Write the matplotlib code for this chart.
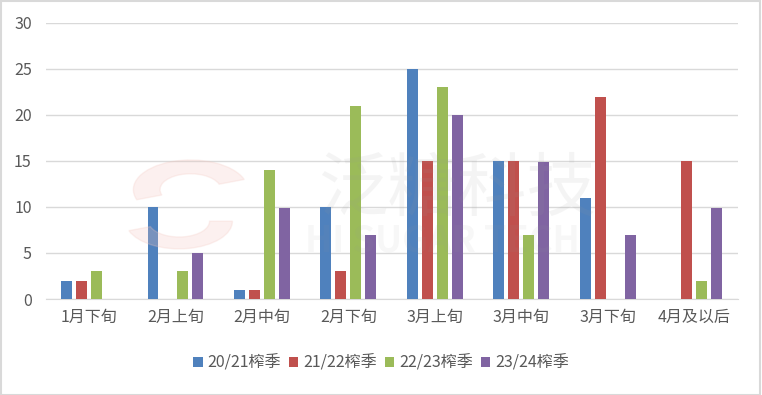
import numpy as np
import matplotlib.pyplot as plt
from matplotlib.patches import Rectangle, Wedge

plt.rcParams['font.family'] = ['Noto Sans CJK SC', 'DejaVu Sans']

categories = ['1月下旬', '2月上旬', '2月中旬', '2月下旬', '3月上旬', '3月中旬', '3月下旬', '4月及以后']
seasons = ['20/21榨季', '21/22榨季', '22/23榨季', '23/24榨季']
s2021 = [2, 10, 1, 10, 25, 15, 11, 0]
s2122 = [2, 0, 1, 3, 15, 15, 22, 15]
s2223 = [3, 3, 14, 21, 23, 7, 0, 2]
s2324 = [0, 5, 9.9, 7, 20, 14.9, 7, 9.9]
colors = ['#4F81BD', '#C0504D', '#9BBB59', '#8064A2']

fig = plt.figure(figsize=(7.62, 3.95), dpi=100)
ax = fig.add_axes([0.060, 0.243, 0.908, 0.699])

# watermark logo (faint)
fig.patches.append(Wedge((0.25, 0.52), 0.075, 20, 200, width=0.035, transform=fig.transFigure,
                         color='#F4C7C0', alpha=0.25, zorder=0))
fig.patches.append(Wedge((0.235, 0.44), 0.07, 200, 360, width=0.03, transform=fig.transFigure,
                         color='#F4C7C0', alpha=0.25, zorder=0))

x = np.arange(len(categories))
pitch = 0.173
width = 0.127
for i, vals in enumerate([s2021, s2122, s2223, s2324]):
    ax.bar(x + (i - 1.5) * pitch, vals, width, color=colors[i], label=seasons[i], zorder=3)

ax.set_xlim(-0.5, len(categories) - 0.5)
ax.set_ylim(0, 30)
ax.set_yticks(range(0, 31, 5))
ax.set_xticks(x)
ax.set_xticklabels(categories)
ax.grid(axis='y', color='#D9D9D9', linewidth=1, zorder=0)
ax.patch.set_alpha(0)
for s in ['top', 'right', 'left']:
    ax.spines[s].set_visible(False)
ax.spines['bottom'].set_color('#D9D9D9')
ax.tick_params(axis='both', length=0, labelsize=11.5, colors='#595959')
ax.tick_params(axis='x', pad=7)
ax.tick_params(axis='y', pad=10)

# watermark text
fig.text(0.60, 0.52, '泛糖科技', fontsize=50, color='#999999', alpha=0.10,
         ha='center', va='center')
fig.text(0.58, 0.39, 'HI SUGAR TECH', fontsize=26, color='#999999', alpha=0.08,
         ha='center', va='center', fontweight='bold')

leg = fig.legend(loc='center', bbox_to_anchor=(0.5, 0.08), ncol=4, frameon=False,
                 fontsize=11.5, handlelength=0.6, handleheight=0.6,
                 handletextpad=0.3, columnspacing=0.5)
for t in leg.get_texts():
    t.set_color('#595959')

fig.patches.append(Rectangle((0.001, 0.001), 0.997, 0.997, transform=fig.transFigure,
                             fill=False, edgecolor='#D9D9D9', linewidth=1.5))

fig.savefig('out.png', dpi=100)
